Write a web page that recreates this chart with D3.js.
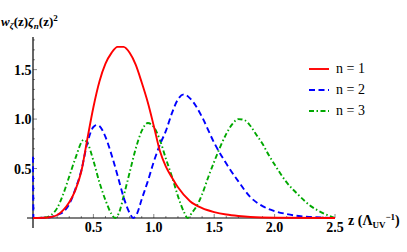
<!DOCTYPE html>
<html lang="en">
<head>
<meta charset="utf-8">
<script src="https://d3js.org/d3.v7.min.js"></script>
<style>
  body { margin: 0; background: #fff; }
</style>
</head>
<body>
<div id="graph"></div>
<script>

// data
var zRed = [0, 0.1, 0.15, 0.2, 0.25, 0.3, 0.35, 0.4, 0.45, 0.5, 0.55, 0.6, 0.65, 0.7, 0.75, 0.8, 0.85, 0.9, 0.95, 1.0, 1.05, 1.1, 1.15, 1.2, 1.3, 1.4, 1.5, 1.6, 1.7, 1.8, 2.0, 2.5];
var red  = [0, 0.002, 0.01, 0.03, 0.08, 0.16, 0.28, 0.47, 0.80, 1.12, 1.38, 1.56, 1.67, 1.73, 1.73, 1.67, 1.55, 1.37, 1.17, 0.93, 0.68, 0.52, 0.41, 0.31, 0.17, 0.10, 0.06, 0.035, 0.02, 0.01, 0.003, 0];

var zBlue = [0, 0.004, 0.1, 0.15, 0.2, 0.25, 0.3, 0.35, 0.4, 0.45, 0.5, 0.53, 0.55, 0.6, 0.65, 0.7, 0.75, 0.8, 0.83, 0.86, 0.9, 0.95, 1.0, 1.05, 1.1, 1.15, 1.2, 1.25, 1.3, 1.35, 1.4, 1.5, 1.6, 1.7, 1.8, 1.9, 2.0, 2.1, 2.2, 2.3, 2.4, 2.5];
var blue  = [0.62, 0, 0.002, 0.01, 0.03, 0.06, 0.14, 0.29, 0.48, 0.76, 0.92, 0.94, 0.93, 0.82, 0.64, 0.43, 0.21, 0.05, 0, 0.04, 0.19, 0.37, 0.57, 0.74, 0.88, 1.06, 1.20, 1.25, 1.21, 1.13, 1.02, 0.76, 0.55, 0.37, 0.21, 0.12, 0.07, 0.04, 0.02, 0.01, 0.004, 0];

var zGreen = [0, 0.1, 0.15, 0.2, 0.25, 0.3, 0.35, 0.42, 0.45, 0.5, 0.55, 0.6, 0.65, 0.68, 0.72, 0.75, 0.8, 0.85, 0.9, 0.95, 1.0, 1.05, 1.1, 1.15, 1.2, 1.25, 1.28, 1.32, 1.35, 1.4, 1.45, 1.5, 1.55, 1.6, 1.65, 1.7, 1.75, 1.8, 1.85, 1.9, 1.95, 2.0, 2.1, 2.2, 2.3, 2.4, 2.5];
var green  = [0, 0.005, 0.03, 0.10, 0.24, 0.42, 0.60, 0.79, 0.76, 0.58, 0.36, 0.18, 0.04, 0, 0.08, 0.22, 0.46, 0.70, 0.88, 0.96, 0.92, 0.79, 0.60, 0.42, 0.22, 0.06, 0, 0.06, 0.11, 0.24, 0.41, 0.57, 0.72, 0.85, 0.95, 1.0, 0.99, 0.93, 0.84, 0.75, 0.64, 0.54, 0.36, 0.23, 0.12, 0.05, 0];

var xTicks = [0.5, 1.0, 1.5, 2.0, 2.5];
var yTicks = [0.5, 1.0, 1.5];
var labels = ["n = 1", "n = 2", "n = 3"];

var width = 407, height = 252;
var serif = "Liberation Serif";

var svg = d3.select("#graph")
  .append("svg")
    .attr("width", width)
    .attr("height", height)
    .attr("font-family", serif);

var x = d3.scaleLinear()
  .domain([0, 2.5])
  .range([33, 335]);

var y = d3.scaleLinear()
  .domain([0, 1.83])
  .range([218, 37]);

// minor ticks
var minorX = d3.range(0.1, 2.51, 0.1);
var minorY = d3.range(0.1, 1.81, 0.1);

svg.append("g").selectAll("line")
  .data(minorX)
  .enter().append("line")
    .attr("x1", function(d){ return x(d); })
    .attr("x2", function(d){ return x(d); })
    .attr("y1", y(0))
    .attr("y2", function(d){ return y(0) - (Math.abs(d*2 - Math.round(d*2)) < 1e-6 ? 4 : 2); })
    .style("stroke", "#555")
    .style("stroke-width", 0.7);

svg.append("g").selectAll("line")
  .data(minorY)
  .enter().append("line")
    .attr("y1", function(d){ return y(d); })
    .attr("y2", function(d){ return y(d); })
    .attr("x1", x(0))
    .attr("x2", function(d){ return x(0) + (Math.abs(d*2 - Math.round(d*2)) < 1e-6 ? 4 : 2); })
    .style("stroke", "#555")
    .style("stroke-width", 0.7);

// axes lines
svg.append("line")
  .attr("x1", x(-0.05)).attr("x2", x(2.5))
  .attr("y1", y(0)).attr("y2", y(0))
  .style("stroke", "#000").style("stroke-width", 1.2);

svg.append("line")
  .attr("x1", x(0)).attr("x2", x(0))
  .attr("y1", y(1.83)).attr("y2", y(-0.1))
  .style("stroke", "#000").style("stroke-width", 1.2);

// tick labels
svg.append("g").selectAll("text")
  .data(xTicks)
  .enter().append("text")
    .attr("x", function(d){ return x(d); })
    .attr("y", 232)
    .attr("text-anchor", "middle")
    .style("font-size", "14px")
    .style("font-weight", "bold")
    .text(function(d){ return d.toFixed(1); });

svg.append("g").selectAll("text")
  .data(yTicks)
  .enter().append("text")
    .attr("x", 31.5)
    .attr("y", function(d){ return y(d) + 5; })
    .attr("text-anchor", "end")
    .style("font-size", "14px")
    .style("font-weight", "bold")
    .text(function(d){ return d.toFixed(1); });

// curves
var series = [
  {z: zRed, v: red, color: "#ff0000", dash: null},
  {z: zBlue, v: blue, color: "#0000ff", dash: "6,3.5"},
  {z: zGreen, v: green, color: "#00a800", dash: "5,2.5,1.5,2.5"}
];

var line = d3.line()
  .x(function(d){ return x(d[0]); })
  .y(function(d){ return y(d[1]); })
  .curve(d3.curveMonotoneX);

series.slice().reverse().forEach(function(s){
  svg.append("path")
    .datum(d3.zip(s.z, s.v))
    .attr("d", line)
    .style("fill", "none")
    .style("stroke", s.color)
    .style("stroke-width", 1.9)
    .style("stroke-dasharray", s.dash);
});

// legend
var legend = svg.append("g");
series.forEach(function(s, i){
  var ly = 69 + i * 21;
  legend.append("line")
    .attr("x1", 309).attr("x2", 329)
    .attr("y1", ly).attr("y2", ly)
    .style("stroke", s.color)
    .style("stroke-width", 1.9)
    .style("stroke-dasharray", s.dash);
  legend.append("text")
    .attr("x", 336)
    .attr("y", ly + 4)
    .style("font-size", "14px")
    .text(labels[i]);
});

// y axis label
var yl = svg.append("text")
  .attr("x", 1)
  .attr("y", 26)
  .style("font-size", "13px")
  .style("font-weight", "bold");
yl.append("tspan").style("font-style", "italic").text("w");
yl.append("tspan").attr("dy", 3).style("font-style", "italic").style("font-size", "9px").text("ζ");
yl.append("tspan").attr("dy", -3).text("(z)");
yl.append("tspan").style("font-style", "italic").text("ζ");
yl.append("tspan").attr("dy", 3).style("font-style", "italic").style("font-size", "9px").text("n");
yl.append("tspan").attr("dy", -3).text("(z)");
yl.append("tspan").attr("dy", -5).style("font-size", "9px").text("2");

// x axis label
var xl = svg.append("text")
  .attr("x", 348)
  .attr("y", 225)
  .style("font-size", "14px")
  .style("font-weight", "bold");
xl.append("tspan").text("z (Λ");
xl.append("tspan").attr("dy", 3).style("font-size", "9px").text("UV");
xl.append("tspan").attr("dy", -8).style("font-size", "9px").text("−1");
xl.append("tspan").attr("dy", 5).text(")");

</script>
</body>
</html>
